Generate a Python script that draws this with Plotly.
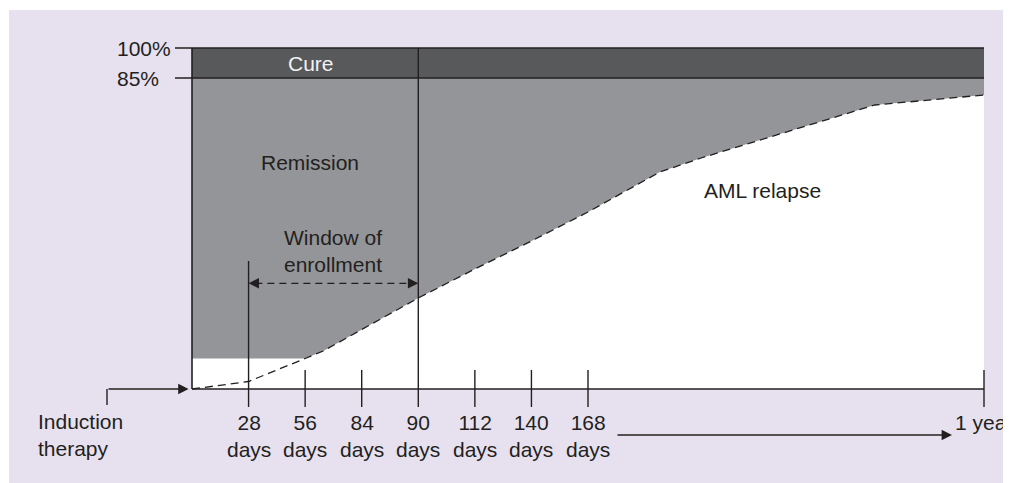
import plotly.graph_objects as go

# ---------------- data (schematic chart) ----------------
tick_days = [28, 56, 84, 90, 112, 140, 168]
tick_pos = [1, 2, 3, 4, 5, 6, 7]          # evenly spaced schematic positions
year_label = "1 year"
year_pos = 14
start_label = "Induction<br>therapy"
pct_labels = ["100%", "85%"]
pct_levels = [341, 311]                   # schematic heights of the 100% / 85% lines
remission_floor = 30.5                    # plateau of early remission
relapse_pos = [0, 1, 2, 2.32, 4, 5, 6, 7, 8.27, 9.0, 12.07, 14]
relapse_level = [0, 7.5, 30.5, 38, 91, 120, 148, 177, 217, 231, 284, 294]
window_start_day, window_end_day = 28, 90

# ---------------- styles ----------------
INK = "#231f20"
LAV = "#e7e1ef"
CURE = "#58595b"
REM = "#939598"
FONT = "Liberation Sans, Arial, Helvetica, sans-serif"
FS = 21

W, H = 1011, 483
PX = 792 / 14.0          # pixels per schematic position unit
X0 = 192                 # page pixel of position 0
Y0 = 389                 # page pixel of level 0
OFF = 8                  # page offset of the figure (body margin)

top_level = pct_levels[0]
cure_level = pct_levels[1]
w_start = tick_pos[tick_days.index(window_start_day)]
w_end = tick_pos[tick_days.index(window_end_day)]

fig = go.Figure()

# Cure band
fig.add_trace(go.Scatter(
    x=[0, year_pos, year_pos, 0], y=[cure_level, cure_level, top_level, top_level],
    fill="toself", fillcolor=CURE, mode="lines", line=dict(width=0),
    hoverinfo="skip", showlegend=False))

# Remission area (between 85% line and relapse curve)
low_x = [0] + [p for p in relapse_pos if p >= 2]
low_y = [remission_floor] + [l for p, l in zip(relapse_pos, relapse_level) if p >= 2]
poly_x = [0, year_pos] + low_x[::-1]
poly_y = [cure_level, cure_level] + low_y[::-1]
fig.add_trace(go.Scatter(
    x=poly_x, y=poly_y, fill="toself", fillcolor=REM, mode="lines",
    line=dict(width=0), hoverinfo="skip", showlegend=False))

# Relapse curve (dashed)
fig.add_trace(go.Scatter(
    x=relapse_pos, y=relapse_level, mode="lines",
    line=dict(color=INK, width=1.3, dash="8px,5px"),
    hoverinfo="skip", showlegend=False))

# Frame lines: top, 85% line, left edge, baseline
tick_in = -17 / PX
fx = [tick_in, year_pos, None, tick_in, year_pos, None, 0, 0, None, 0, year_pos]
fy = [top_level, top_level, None, cure_level, cure_level, None, 0, top_level, None, 0, 0]
fig.add_trace(go.Scatter(x=fx, y=fy, mode="lines", line=dict(color=INK, width=1.6),
                         hoverinfo="skip", showlegend=False))

# Ticks on the time axis
tx, ty = [], []
for p in tick_pos + [year_pos]:
    if p == w_end:
        top = top_level
    elif p == w_start:
        top = 128
    else:
        top = 19
    tx += [p, p, None]
    ty += [top, -18, None]
fig.add_trace(go.Scatter(x=tx, y=ty, mode="lines", line=dict(color=INK, width=1.4),
                         hoverinfo="skip", showlegend=False))

# Window of enrollment dashed arrow
win_y = 105.7
fig.add_trace(go.Scatter(x=[w_start + 0.12, w_end - 0.12], y=[win_y, win_y], mode="lines",
                         line=dict(color=INK, width=1.3, dash="7px,5px"),
                         hoverinfo="skip", showlegend=False))

# Induction therapy connector
ind_x = (107 - X0) / PX
fig.add_trace(go.Scatter(x=[ind_x, ind_x], y=[-16, 0], mode="lines",
                         line=dict(color=INK, width=1.4), hoverinfo="skip", showlegend=False))

shapes = [
    dict(type="rect", xref="x", yref="y", layer="below",
         x0=(9 - X0) / PX, x1=16, y0=Y0 - 500, y1=Y0 - 10, fillcolor=LAV, line=dict(width=0)),
    dict(type="rect", xref="x", yref="y", layer="below",
         x0=0, x1=year_pos, y0=0, y1=top_level, fillcolor="white", line=dict(width=0)),
]

ann = []
def txt(x, y, s, color=INK, xanchor="center", align="center"):
    ann.append(dict(x=x, y=y, xref="x", yref="y", text=s, showarrow=False,
                    xanchor=xanchor, yanchor="middle", align=align,
                    font=dict(family=FONT, size=FS, color=color)))

for d, p in zip(tick_days, tick_pos):
    txt(p, -46.5, f"{d}<br>days")
txt(year_pos, -33.5, year_label)
txt((36 - X0) / PX, -45.5, start_label, xanchor="left", align="left")
for lab, lev in zip(pct_labels, pct_levels):
    txt((115 - X0) / PX, lev, lab, xanchor="left", align="left")
txt(2.1, 326, "Cure", color="#f2f2f2")
txt(2.08, 227, "Remission")
txt(2.5, 138.5, "Window of<br>enrollment")
txt(10.09, 199, "AML relapse")

def arrow(x, y, ax, ay, size=1.6):
    ann.append(dict(x=x, y=y, ax=ax, ay=ay, xref="x", yref="y", axref="x", ayref="y",
                    text="", showarrow=True, arrowhead=2, arrowsize=size,
                    arrowwidth=1.3, arrowcolor=INK, standoff=0, startstandoff=0))

arrow(w_start, win_y, w_start + 0.2, win_y)
arrow(w_end, win_y, w_end - 0.2, win_y)
arrow(-0.06, 0, ind_x, 0)
arrow((952 - X0) / PX, -46, (616 - X0) / PX, -46)

fig.update_layout(
    width=W, height=H, autosize=False,
    margin=dict(l=0, r=0, t=0, b=0, pad=0),
    paper_bgcolor="white", plot_bgcolor="white",
    xaxis=dict(range=[(OFF - X0) / PX, (W + OFF - X0) / PX], visible=False, fixedrange=True),
    yaxis=dict(range=[Y0 - H - OFF, Y0 - OFF], visible=False, fixedrange=True),
    shapes=shapes, annotations=ann, showlegend=False,
)

fig.write_html("out.html")
